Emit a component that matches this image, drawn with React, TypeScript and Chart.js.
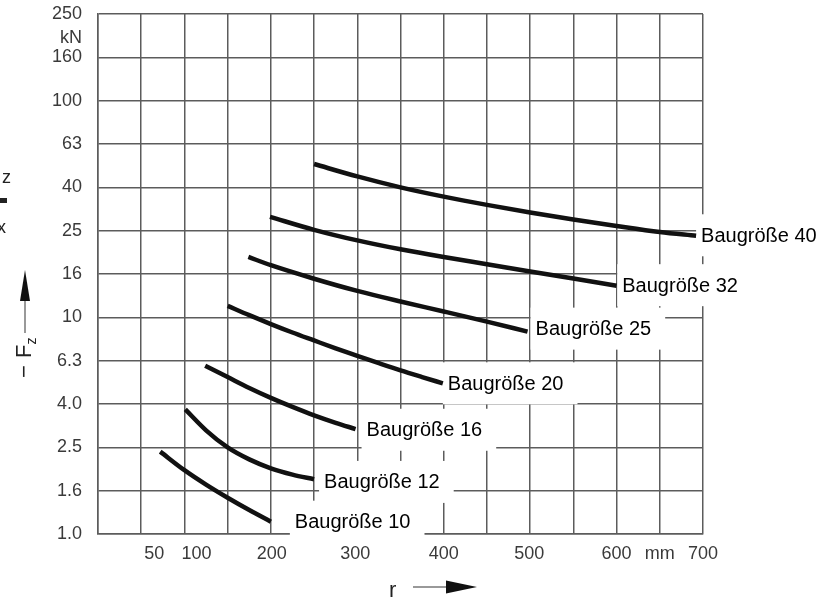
import React, { useEffect, useRef } from "react";
import { Chart, registerables } from "chart.js";

Chart.register(...registerables);

// ---- Data ----
const yTickLabels = ["1.0", "1.6", "2.5", "4.0", "6.3", "10", "16", "25", "40", "63", "100", "160", "250"];
const yUnit = "kN";
const xTickValues = [50, 100, 200, 300, 400, 500, 600, 650, 700];
const xTickLabels = ["50", "100", "200", "300", "400", "500", "600", "mm", "700"];
const xTitle = "r";
const yTitle = "F";
const yTitleSub = "z";

const seriesNames = ["Baugröße 10", "Baugröße 12", "Baugröße 16", "Baugröße 20", "Baugröße 25", "Baugröße 32", "Baugröße 40"];

const r10 = [72, 100, 125, 150, 175, 200];
const f10 = [2.4, 1.97, 1.69, 1.47, 1.29, 1.14];

const r12 = [101, 125, 150, 175, 200, 225, 250];
const f12 = [3.76, 3.01, 2.51, 2.21, 2.01, 1.88, 1.79];

const r16 = [124, 150, 175, 200, 225, 250, 275, 298];
const f16 = [5.98, 5.3, 4.72, 4.25, 3.86, 3.53, 3.26, 3.05];

const r20 = [150, 175, 200, 225, 250, 275, 300, 325, 350, 375, 399];
const f20 = [11.3, 10.23, 9.31, 8.51, 7.82, 7.19, 6.64, 6.14, 5.69, 5.3, 4.96];

const r25 = [174, 200, 250, 300, 350, 400, 450, 497];
const f25 = [19.0, 17.4, 15.07, 13.24, 11.83, 10.64, 9.55, 8.59];

const r32 = [199, 250, 300, 350, 400, 450, 500, 550, 600];
const f32 = [29.1, 25.35, 22.65, 20.6, 18.97, 17.58, 16.29, 15.1, 14.0];

const r40 = [250, 300, 350, 400, 450, 500, 550, 600, 650, 692];
const f40 = [51.0, 44.7, 39.8, 36.06, 33.04, 30.48, 28.31, 26.42, 24.77, 23.79];

const seriesR = [r10, r12, r16, r20, r25, r32, r40];
const seriesF = [f10, f12, f16, f20, f25, f32, f40];

// ---- Styles ----
const FONT = "'Liberation Sans', Arial, Helvetica, sans-serif";
const GRID = "#5c5c5c";
const TICK = "#3a3a3a";
const labelDx = [24, 10, 11, 5, 8, 5.7, 5];
const labelDy = [0, 2.7, 0.7, 0, -3, -0.5, -0.5];
const xLabelShift = [13, 12, 1, -2, 0, -1, 0, 0, 0];

const decor = {
  id: "decor",
  beforeDatasetsDraw(chart: any) {
    const ctx = chart.ctx;
    ctx.save();
    ctx.font = `20px ${FONT}`;
    chart.data.datasets.forEach((ds: any, i: number) => {
      const meta = chart.getDatasetMeta(i);
      const last = meta.data[meta.data.length - 1];
      const tx = last.x + labelDx[i];
      const cy = last.y + labelDy[i];
      const w = ctx.measureText(ds.label).width;
      ctx.fillStyle = "#ffffff";
      ctx.fillRect(tx - 5, cy - 21, w + 19, 42);
    });
    ctx.restore();
  },
  afterDatasetsDraw(chart: any) {
    const ctx = chart.ctx;
    const xs = chart.scales.x;
    const ys = chart.scales.y;
    ctx.save();
    // series labels
    ctx.font = `20px ${FONT}`;
    ctx.fillStyle = "#000";
    ctx.textAlign = "left";
    ctx.textBaseline = "middle";
    chart.data.datasets.forEach((ds: any, i: number) => {
      const meta = chart.getDatasetMeta(i);
      const last = meta.data[meta.data.length - 1];
      ctx.fillText(ds.label, last.x + labelDx[i], last.y + labelDy[i] + 1);
    });
    // x tick labels
    ctx.font = `18px ${FONT}`;
    ctx.fillStyle = TICK;
    ctx.textAlign = "center";
    xTickValues.forEach((v, i) => {
      ctx.fillText(xTickLabels[i], xs.getPixelForValue(v) + xLabelShift[i], xs.top + 20);
    });
    // unit under top tick
    ctx.textAlign = "right";
    ctx.fillText(yUnit, ys.left + ys.width - 16, ys.getPixelForValue(Math.pow(10, 2.4)) + 24);
    // x title with arrow
    ctx.fillStyle = "#222";
    ctx.textAlign = "left";
    ctx.textBaseline = "alphabetic";
    ctx.font = `22px ${FONT}`;
    ctx.fillText(xTitle, 389, 597);
    ctx.strokeStyle = "#777";
    ctx.lineWidth = 1.5;
    ctx.beginPath();
    ctx.moveTo(413, 587);
    ctx.lineTo(450, 587);
    ctx.stroke();
    ctx.fillStyle = "#111";
    ctx.beginPath();
    ctx.moveTo(477, 587);
    ctx.lineTo(446, 580.5);
    ctx.lineTo(446, 593.5);
    ctx.closePath();
    ctx.fill();
    // y title with arrow
    ctx.beginPath();
    ctx.moveTo(25, 333);
    ctx.lineTo(25, 296);
    ctx.stroke();
    ctx.beginPath();
    ctx.moveTo(25, 270);
    ctx.lineTo(20, 301);
    ctx.lineTo(30, 301);
    ctx.closePath();
    ctx.fill();
    ctx.save();
    ctx.translate(31, 378);
    ctx.rotate(-Math.PI / 2);
    ctx.fillStyle = "#222";
    ctx.font = `22px ${FONT}`;
    ctx.fillText("\u2212", 0, 0);
    ctx.fillText(yTitle, 20, 0);
    const wf = ctx.measureText(yTitle).width;
    ctx.font = `14px ${FONT}`;
    ctx.fillText(yTitleSub, 20 + wf, 5);
    ctx.restore();
    // cropped fragment at the left edge
    ctx.fillStyle = "#222";
    ctx.font = `18px ${FONT}`;
    ctx.fillText("z", 2, 183);
    ctx.fillRect(0, 198, 7, 5);
    ctx.fillText("x", -3, 233);
    ctx.restore();
  },
};

export default function App() {
  const ref = useRef<HTMLCanvasElement | null>(null);
  useEffect(() => {
    document.body.style.margin = "0";
    const canvas = ref.current;
    if (!canvas) return;
    const datasets = seriesNames.map((name, i) => ({
      label: name,
      data: seriesR[i].map((r, j) => ({ x: r, y: seriesF[i][j] })),
      borderColor: "#111",
      borderWidth: 4.5,
      pointRadius: 0,
      fill: false,
      cubicInterpolationMode: "monotone" as const,
      borderCapStyle: "butt" as const,
    }));
    const chart = new Chart(canvas, {
      type: "line",
      data: { datasets },
      plugins: [decor],
      options: {
        responsive: false,
        animation: false,
        events: [],
        layout: { padding: { top: 14, right: 126, left: 0, bottom: 0 } },
        plugins: { legend: { display: false }, tooltip: { enabled: false } },
        scales: {
          x: {
            type: "linear",
            min: 0,
            max: 700,
            afterFit: (s: any) => {
              s.height = 69;
              s.paddingLeft = 0;
              s.paddingRight = 0;
            },
            ticks: { stepSize: 50, autoSkip: false, display: false },
            grid: { color: GRID, lineWidth: 1.5, drawTicks: false },
            border: { color: GRID, width: 1.5 },
          },
          y: {
            type: "logarithmic",
            min: 1,
            max: Math.pow(10, 2.4),
            bounds: "data",
            afterFit: (s: any) => {
              s.width = 98;
              s.paddingTop = 0;
              s.paddingBottom = 0;
            },
            afterBuildTicks: (s: any) => {
              s.ticks = yTickLabels.map((_, i) => ({ value: Math.pow(10, i / 5) }));
            },
            ticks: {
              autoSkip: false,
              padding: 16,
              color: TICK,
              font: { size: 18, family: FONT },
              callback: (_v: any, i: number) => yTickLabels[i],
            },
            grid: { color: GRID, lineWidth: 1.5, drawTicks: false },
            border: { color: GRID, width: 1.5 },
          },
        },
      },
    });
    return () => chart.destroy();
  }, []);
  return (
    <div style={{ position: "absolute", left: 0, top: 0, width: 829, height: 603, background: "#fff" }}>
      <canvas ref={ref} width={829} height={603} />
    </div>
  );
}
